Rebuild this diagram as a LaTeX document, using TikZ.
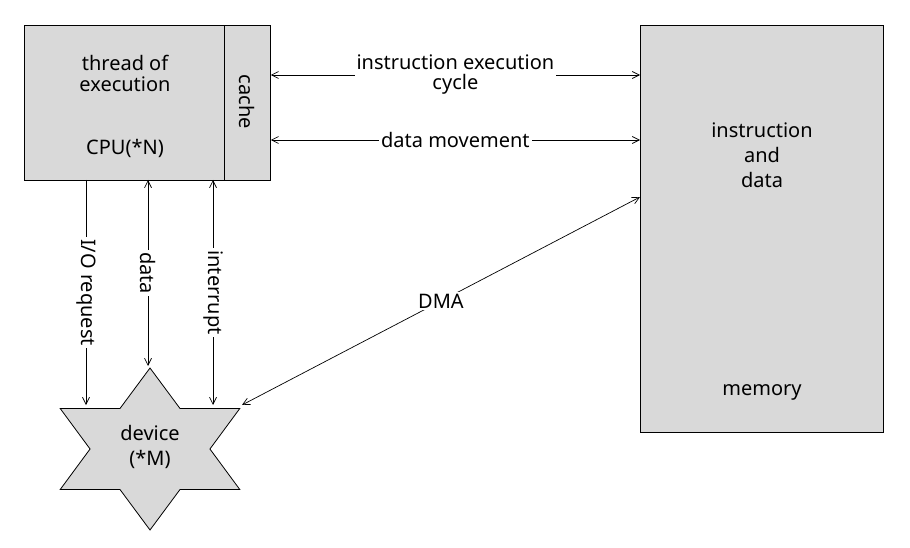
\documentclass[tikz,border=0pt]{standalone}
\usepackage{fontspec}
\setmainfont{Noto Sans}
\usetikzlibrary{arrows.meta,shapes.geometric,positioning}
\tikzset{
  box/.style={draw, fill=gray!30, line width=0.8pt, inner sep=0pt},
  lnk/.style={line width=0.7pt, {Straight Barb[length=7pt,width=7pt]}-{Straight Barb[length=7pt,width=7pt]}},
  one/.style={line width=0.7pt, -{Straight Barb[length=7pt,width=7pt]}},
  lbl/.style={fill=white, inner sep=2pt, align=center, font=\fontsize{20}{23}\selectfont},
  txt/.style={align=center, font=\fontsize{20}{23}\selectfont}
}
\begin{document}
\begin{tikzpicture}[x=1pt,y=-1pt]
\useasboundingbox (0,0) rectangle (910,548);
% boxes
\node[box, minimum width=200, minimum height=155, anchor=north west] (cpu) at (24,25) {};
\node[box, minimum width=46, minimum height=155, anchor=north west] (cache) at (224,25) {};
\node[box, minimum width=243, minimum height=407, anchor=north west] (mem) at (640,25) {};
\node[draw, fill=gray!30, line width=0.8pt, star, star points=6, star point ratio=1.73,
      minimum size=162, inner sep=0pt, xscale=1.28] (dev) at (150,449) {};
% texts
\node[txt] at (125,73) {thread of\\[-2pt]execution};
\node[txt] at (125,148) {CPU(*N)};
\node[txt, rotate=-90] at (247,102) {cache};
\node[txt] at (762,155) {instruction\\[2pt]and\\[2pt]data};
\node[txt] at (762,392) {memory};
\node[txt] at (150,447) {device\\[2pt](*M)};
% free ends
\coordinate (c1) at (640,75);
\coordinate (c2) at (640,140);
\coordinate (m3) at (640,197);
\coordinate (d0) at (242,405);
\coordinate (t1) at (86,180);
\coordinate (b1) at (86,405);
\coordinate (t2) at (148,180);
\coordinate (b2) at (148,366);
\coordinate (t3) at (213,180);
\coordinate (b3) at (213,405);
% links
\draw[lnk] (cache.east |- c1) -- node[lbl] {instruction execution\\[-3pt]cycle} (c1);
\draw[lnk] (cache.east |- c2) -- node[lbl] {data movement} (c2);
\draw[lnk] (m3) -- node[lbl] {DMA} (d0);
\draw[one] (t1) -- node[lbl, rotate=-90] {I/O request} (b1);
\draw[lnk] (t2) -- node[lbl, rotate=-90] {data} (b2);
\draw[lnk] (t3) -- node[lbl, rotate=-90] {interrupt} (b3);
\end{tikzpicture}
\end{document}
